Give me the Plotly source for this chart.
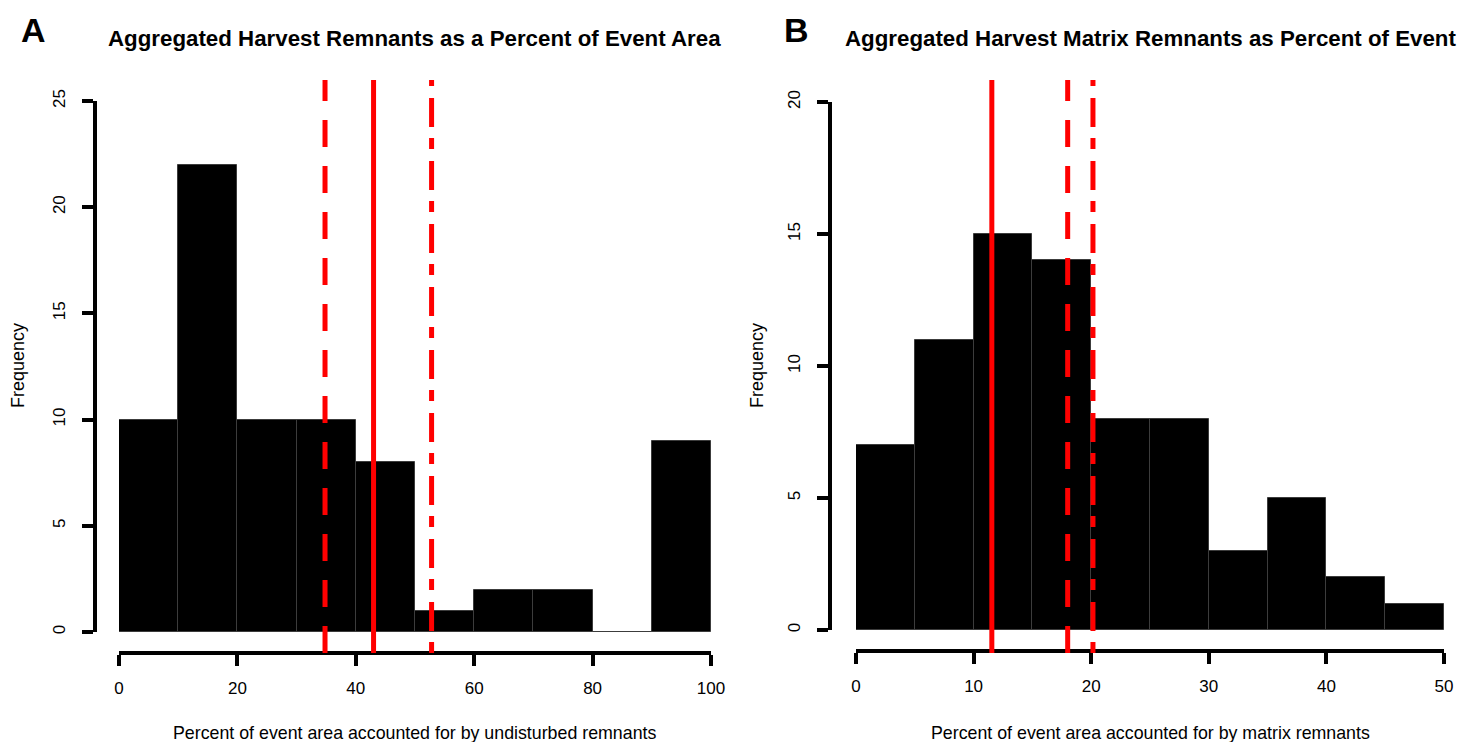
import plotly.graph_objects as go

W, H = 1459, 742

# ---------------- data ----------------
# Panel A: aggregated harvest remnants (% of event area), bins of 10
a_edges = [0, 10, 20, 30, 40, 50, 60, 70, 80, 90, 100]
a_counts = [10, 22, 10, 10, 8, 1, 2, 2, 0, 9]
a_line_vals = [34.8, 43.0, 52.8]
a_line_styles = ["dash", "solid", "dashdot"]

# Panel B: aggregated harvest matrix remnants (% of event), bins of 5
b_edges = [0, 5, 10, 15, 20, 25, 30, 35, 40, 45, 50]
b_counts = [7, 11, 15, 14, 8, 8, 3, 5, 2, 1]
b_line_vals = [11.55, 18.0, 20.15]
b_line_styles = ["solid", "dash", "dashdot"]

a_xticks = [0, 20, 40, 60, 80, 100]
a_yticks = [0, 5, 10, 15, 20, 25]
b_xticks = [0, 10, 20, 30, 40, 50]
b_yticks = [0, 5, 10, 15, 20]

titles = ["Aggregated Harvest Remnants as a Percent of Event Area",
          "Aggregated Harvest Matrix Remnants as Percent of Event"]
xtitles = ["Percent of event area accounted for by undisturbed remnants",
           "Percent of event area accounted for by matrix remnants"]
ytitle = "Frequency"
panel_labels = ["A", "B"]

# ---------------- helpers ----------------
FONT = "Liberation Sans, Arial, Helvetica, sans-serif"
DASHES = {"solid": "solid", "dash": "27px,19px", "dashdot": "11px,11px,29px,12px"}


def px_x(p):
    return p / W


def px_y(p):
    return 1 - p / H


def mids(edges):
    return [(edges[i] + edges[i + 1]) / 2 for i in range(len(edges) - 1)]


def widths(edges):
    return [edges[i + 1] - edges[i] for i in range(len(edges) - 1)]


fig = go.Figure()

fig.add_trace(go.Bar(x=mids(a_edges), y=a_counts, width=widths(a_edges),
                     marker=dict(color="black", line=dict(color="#3c3c3c", width=1)),
                     xaxis="x", yaxis="y", showlegend=False, hoverinfo="skip"))
fig.add_trace(go.Bar(x=mids(b_edges), y=b_counts, width=widths(b_edges),
                     marker=dict(color="black", line=dict(color="#3c3c3c", width=1)),
                     xaxis="x2", yaxis="y2", showlegend=False, hoverinfo="skip"))

line_top = px_y(80)
line_bot = px_y(653)
for vals, styles, xr in [(a_line_vals, a_line_styles, "x"), (b_line_vals, b_line_styles, "x2")]:
    for v, s in zip(vals, styles):
        fig.add_shape(type="line", xref=xr, yref="paper", x0=v, x1=v,
                      y0=line_bot, y1=line_top,
                      line=dict(color="#ff0000", width=5, dash=DASHES[s]), layer="above")


def xax(domain, rng, ticks, pos):
    return dict(domain=domain, range=rng, anchor="free", position=pos,
                automargin=False,
                showline=True, linewidth=4, linecolor="black",
                ticks="outside", ticklen=11, tickwidth=4, tickcolor="black",
                tickmode="array", tickvals=ticks, ticktext=[str(t) for t in ticks],
                showgrid=False, zeroline=False, ticklabelstandoff=8,
                tickfont=dict(family=FONT, size=17, color="black"), fixedrange=True)


def yax(domain, rng, ticks, pos):
    return dict(domain=domain, range=rng, anchor="free", position=pos,
                automargin=False,
                showline=True, linewidth=4, linecolor="black",
                ticks="outside", ticklen=11, tickwidth=4, tickcolor="black",
                tickmode="array", tickvals=ticks, ticktext=[str(t) for t in ticks],
                tickangle=-90, showgrid=False, zeroline=False, ticklabelstandoff=10,
                tickfont=dict(family=FONT, size=17, color="black"), fixedrange=True)


fig.update_layout(
    template="none",
    width=W, height=H,
    margin=dict(l=0, r=0, t=0, b=0, pad=0),
    paper_bgcolor="white", plot_bgcolor="rgba(0,0,0,0)",
    bargap=0, barmode="overlay", showlegend=False,
    xaxis=xax([px_x(119), px_x(711)], [0, 100], a_xticks, px_y(653)),
    yaxis=yax([px_y(632), px_y(101)], [0, 25], a_yticks, px_x(95)),
    xaxis2=xax([px_x(856), px_x(1444)], [0, 50], b_xticks, px_y(651)),
    yaxis2=yax([px_y(630), px_y(102)], [0, 20], b_yticks, px_x(830)),
)

ann = []
for lab, cx in zip(panel_labels, [33, 796]):
    ann.append(dict(text=f"<b>{lab}</b>", x=px_x(cx), y=px_y(30), xref="paper", yref="paper",
                    showarrow=False, xanchor="center", yanchor="middle",
                    font=dict(family=FONT, size=34, color="black")))
for t, cx in zip(titles, [414, 1150]):
    ann.append(dict(text=f"<b>{t}</b>", x=px_x(cx), y=px_y(39), xref="paper", yref="paper",
                    showarrow=False, xanchor="center", yanchor="middle",
                    font=dict(family=FONT, size=22.3, color="black")))
for t, cx in zip(xtitles, [414, 1150]):
    ann.append(dict(text=t, x=px_x(cx), y=px_y(733), xref="paper", yref="paper",
                    showarrow=False, xanchor="center", yanchor="middle",
                    font=dict(family=FONT, size=17.8, color="black")))
for cx in [18, 757]:
    ann.append(dict(text=ytitle, x=px_x(cx), y=px_y(366), xref="paper", yref="paper",
                    showarrow=False, xanchor="center", yanchor="middle", textangle=-90,
                    font=dict(family=FONT, size=18, color="black")))
fig.update_layout(annotations=ann)

fig.write_html("out.html")
